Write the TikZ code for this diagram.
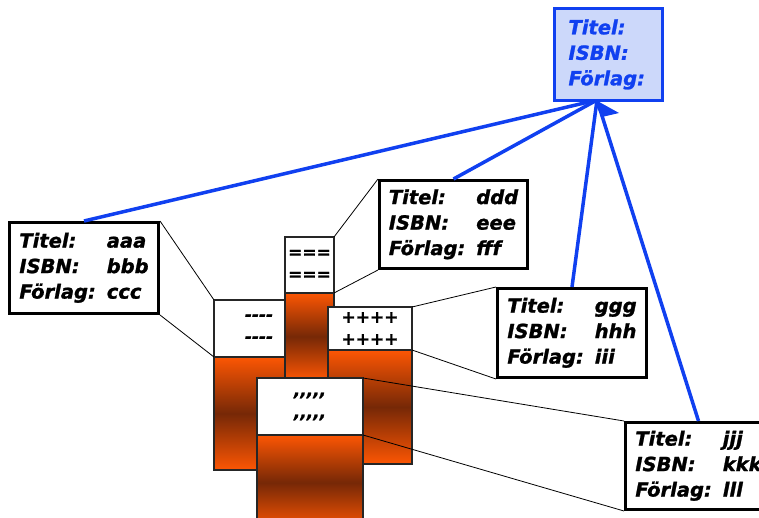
\documentclass[tikz,border=0pt]{standalone}
\usepackage{fontspec}
\setmainfont{DejaVu Sans}[BoldItalicFeatures={FakeBold=1.2}]
\usetikzlibrary{positioning}
\definecolor{linkblue}{RGB}{16,64,240}
\definecolor{queryfill}{RGB}{204,216,250}
\definecolor{spine}{RGB}{252,86,4}
\definecolor{spinedark}{RGB}{118,40,6}
\begin{document}
\begin{tikzpicture}[x=1pt,y=-1pt,
  card/.style={draw, line width=3pt, fill=white, anchor=north west, inner sep=0pt,
    font=\fontsize{19.5}{25.5}\selectfont\bfseries\itshape},
  booklabel/.style={draw=black!85, line width=1.2pt, fill=white, anchor=north west,
    inner sep=0pt, outer sep=0pt, align=center, font=\fontsize{17}{22}\selectfont\bfseries\itshape},
  bookbody/.style={draw=black!85, line width=1.2pt, top color=spine, bottom color=spine,
    middle color=spinedark, inner sep=0pt, outer sep=0pt},
  leader/.style={line width=0.8pt},
  link/.style={draw=linkblue, line width=3.5pt}]

\useasboundingbox (0,0) rectangle (759,518);
\clip (0,0) rectangle (759,518);

% --- Books ---
\node (leftLabel) [booklabel, minimum width=90pt, minimum height=57pt] at (214,300) {-{}-{}-{}-\\-{}-{}-{}-};
\node (leftBody) [bookbody, minimum width=90pt, minimum height=113pt, below=0pt of leftLabel] {};

\node (midLabel) [booklabel, minimum width=49pt, minimum height=56pt] at (285,237) {===\\===};
\node (midBody) [bookbody, minimum width=49pt, minimum height=87pt, below=0pt of midLabel] {};

\node (rightLabel) [booklabel, minimum width=84pt, minimum height=43pt] at (328,307) {++++\\++++};
\node (rightBody) [bookbody, minimum width=84pt, minimum height=114pt, below=0pt of rightLabel] {};

\node (frontLabel) [booklabel, minimum width=106pt, minimum height=57pt] at (257,378)
  {,{},{},{},{},\\,{},{},{},{},};
\node (frontBody) [bookbody, minimum width=106pt, minimum height=95pt, below=0pt of frontLabel] {};

% --- Records ---
\node (aaa) [card, minimum width=149pt, minimum height=91pt] at (8,221)
  {\begin{tabular}{@{}l@{\hspace{11pt}}l@{}}Titel: & aaa\\ ISBN: & bbb\\ Förlag: & ccc\end{tabular}};
\node (ddd) [card, minimum width=148pt, minimum height=88pt] at (378,179)
  {\begin{tabular}{@{}l@{\hspace{11pt}}l@{}}Titel: & ddd\\ ISBN: & eee\\ Förlag: & fff\end{tabular}};
\node (ggg) [card, minimum width=149pt, minimum height=89pt] at (496,287)
  {\begin{tabular}{@{}l@{\hspace{11pt}}l@{}}Titel: & ggg\\ ISBN: & hhh\\ Förlag: & iii\end{tabular}};
\node (jjj) [card, minimum width=146pt, minimum height=87pt] at (624,421)
  {\begin{tabular}{@{}l@{\hspace{11pt}}l@{}}Titel: & jjj\\ ISBN: & kkk\\ Förlag: & lll\end{tabular}};

% --- Leaders from records to books ---
\draw[leader] (aaa.north east) -- (leftLabel.north west);
\draw[leader] (aaa.south east) -- (leftLabel.south west);
\draw[leader] (ddd.north west) -- (midLabel.north east);
\draw[leader] (ddd.south west) -- (midLabel.south east);
\draw[leader] (ggg.north west) -- (rightLabel.north east);
\draw[leader] (ggg.south west) -- (rightLabel.south east);
\draw[leader] (jjj.north west) -- (frontLabel.north east);
\draw[leader] (jjj.south west) -- (frontLabel.south east);

% --- Query record ---
\coordinate (hub) at (597,100);
\draw[link] (aaa.north) -- (hub);
\draw[link] (ddd.north) -- (hub);
\draw[link] (ggg.north) -- (hub);
\draw[link] (jjj.north) -- (hub);
\fill[linkblue] (hub) ++(-5,-2) -- ++(27,15) -- ++(-17,4) -- cycle;
\node (query) [card, draw=linkblue, fill=queryfill, text=linkblue, align=left, text width=80pt,
  minimum width=108pt, minimum height=92pt] at (553,7) {Titel:\\ISBN:\\Förlag:};

\end{tikzpicture}
\end{document}
